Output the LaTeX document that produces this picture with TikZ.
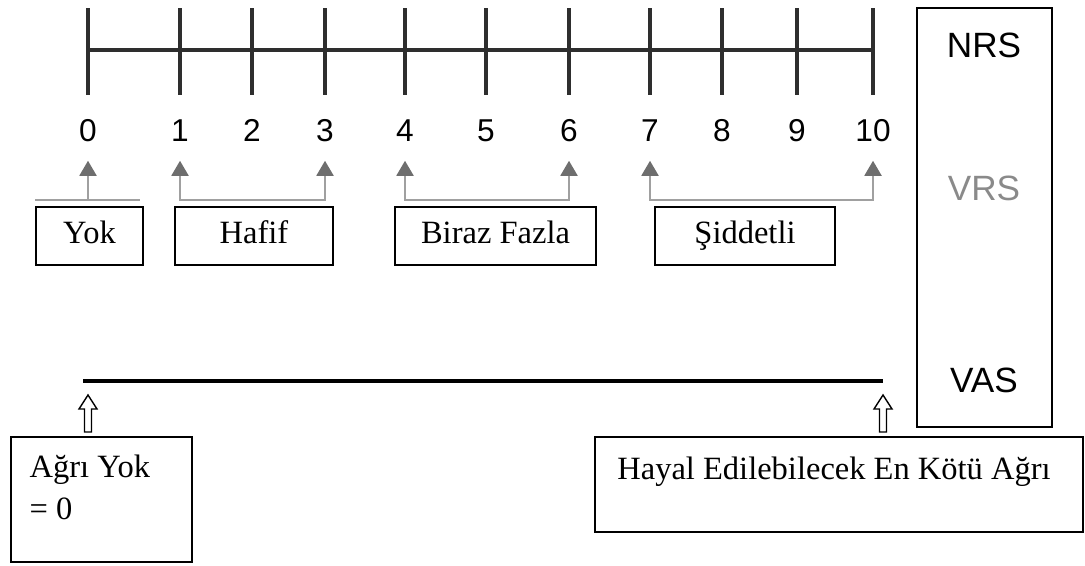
\documentclass[tikz,border=0pt]{standalone}
\usepackage{fontspec}
\setmainfont{Liberation Serif}
\newfontfamily\helv{Liberation Sans}
\usetikzlibrary{arrows.meta}

\definecolor{tickgray}{HTML}{2E2E2E}
\definecolor{headgray}{HTML}{6E6E6E}
\definecolor{linegray}{HTML}{A0A0A0}
\definecolor{vrsgray}{HTML}{8A8A8A}

\begin{document}
\begin{tikzpicture}[
            x=0.02cm, y=-0.02cm,
            tick/.style={tickgray,line width=2pt},
            num/.style={font=\helv\fontsize{18}{21}\selectfont,inner sep=0pt,text height=13pt,text depth=0pt},
            bracket/.style={linegray,line width=1.1pt,
                arrows={{Triangle[width=0.34cm,length=0.3cm,color=headgray]}-{Triangle[width=0.34cm,length=0.3cm,color=headgray]}}},
            label box/.style={draw,line width=0.6pt,minimum height=1.16cm,inner sep=0pt,
                text height=13pt,text depth=4pt,font=\fontsize{18.5}{22}\selectfont},
            scale name/.style={font=\helv\fontsize{20}{24}\selectfont,inner sep=0pt},
            txt/.style={font=\fontsize{18.5}{24}\selectfont,inner sep=0pt,align=left},
            hollowup/.pic={\draw[line width=0.8pt,fill=white] (0,0) -- (9,14) -- (3.5,14) -- (3.5,37)
                -- (-3.5,37) -- (-3.5,14) -- (-9,14) -- cycle;}
        ]
            \useasboundingbox (0,0) rectangle (1085,565);
            % numeric scale
            \draw[tick] (88,50) -- (873,50);
            \foreach \x/\i in {88/0,180/1,252/2,325/3,405/4,486/5,569/6,650/7,722/8,797/9,873/10}{
                \draw[tick] (\x,8) -- (\x,95);
                \node[num] (n\i) at (\x,130) {\i};
            }
            % groups
            \coordinate (yokl) at (35,200);
            \coordinate (yokr) at (140,200);
            \draw[linegray,line width=1.1pt] (yokl) -- (yokr);
            \draw[bracket,arrows={{Triangle[width=0.34cm,length=0.3cm,color=headgray]}-}] ([yshift=-0.38cm]n0.south) -- ++(0,39);
            \draw[bracket] ([yshift=-0.38cm]n1.south) -- ++(0,39) -| ([yshift=-0.38cm]n3.south);
            \draw[bracket] ([yshift=-0.38cm]n4.south) -- ++(0,39) -| ([yshift=-0.38cm]n6.south);
            \draw[bracket] ([yshift=-0.38cm]n7.south) -- ++(0,39) -| ([yshift=-0.38cm]n10.south);
            \node[label box,minimum width=2.14cm] (yok) at (89.5,236) {Yok};
            \node[label box,minimum width=3.16cm] (hafif) at (254,236) {Hafif};
            \node[label box,minimum width=4.02cm] (biraz) at (495.5,236) {Biraz Fazla};
            \node[label box,minimum width=3.6cm] (siddetli) at (745,236) {Şiddetli};
            % scale names
            \node[draw,line width=0.8pt,minimum width=2.7cm,minimum height=8.38cm] (scales) at (984.5,217.5) {};
            \node[scale name] (nrs) at (984,45) {NRS};
            \node[scale name,vrsgray] (vrs) at (984,188) {VRS};
            \node[scale name] (vas) at (984,380) {VAS};
            % visual analogue line
            \coordinate (vasl) at (83,381);
            \coordinate (vasr) at (883,381);
            \draw[line width=1.9pt] (vasl) -- (vasr);
            \pic at (88,395) {hollowup};
            \pic at (883,395) {hollowup};
            \node[draw,line width=0.8pt,minimum width=3.62cm,minimum height=2.5cm] (agri) at (101.5,499.5) {};
            \node[txt,anchor=north west] (agritxt) at ([xshift=0.38cm,yshift=-0.36cm]agri.north west) {Ağrı Yok\\= 0};
            \node[draw,line width=0.8pt,minimum width=9.76cm,minimum height=1.9cm] (hayal) at (839,484.5) {};
            \node[txt,anchor=north] (hayaltxt) at ([xshift=-0.1cm,yshift=-0.4cm]hayal.north) {Hayal Edilebilecek En Kötü Ağrı};
        \end{tikzpicture}
\end{document}
